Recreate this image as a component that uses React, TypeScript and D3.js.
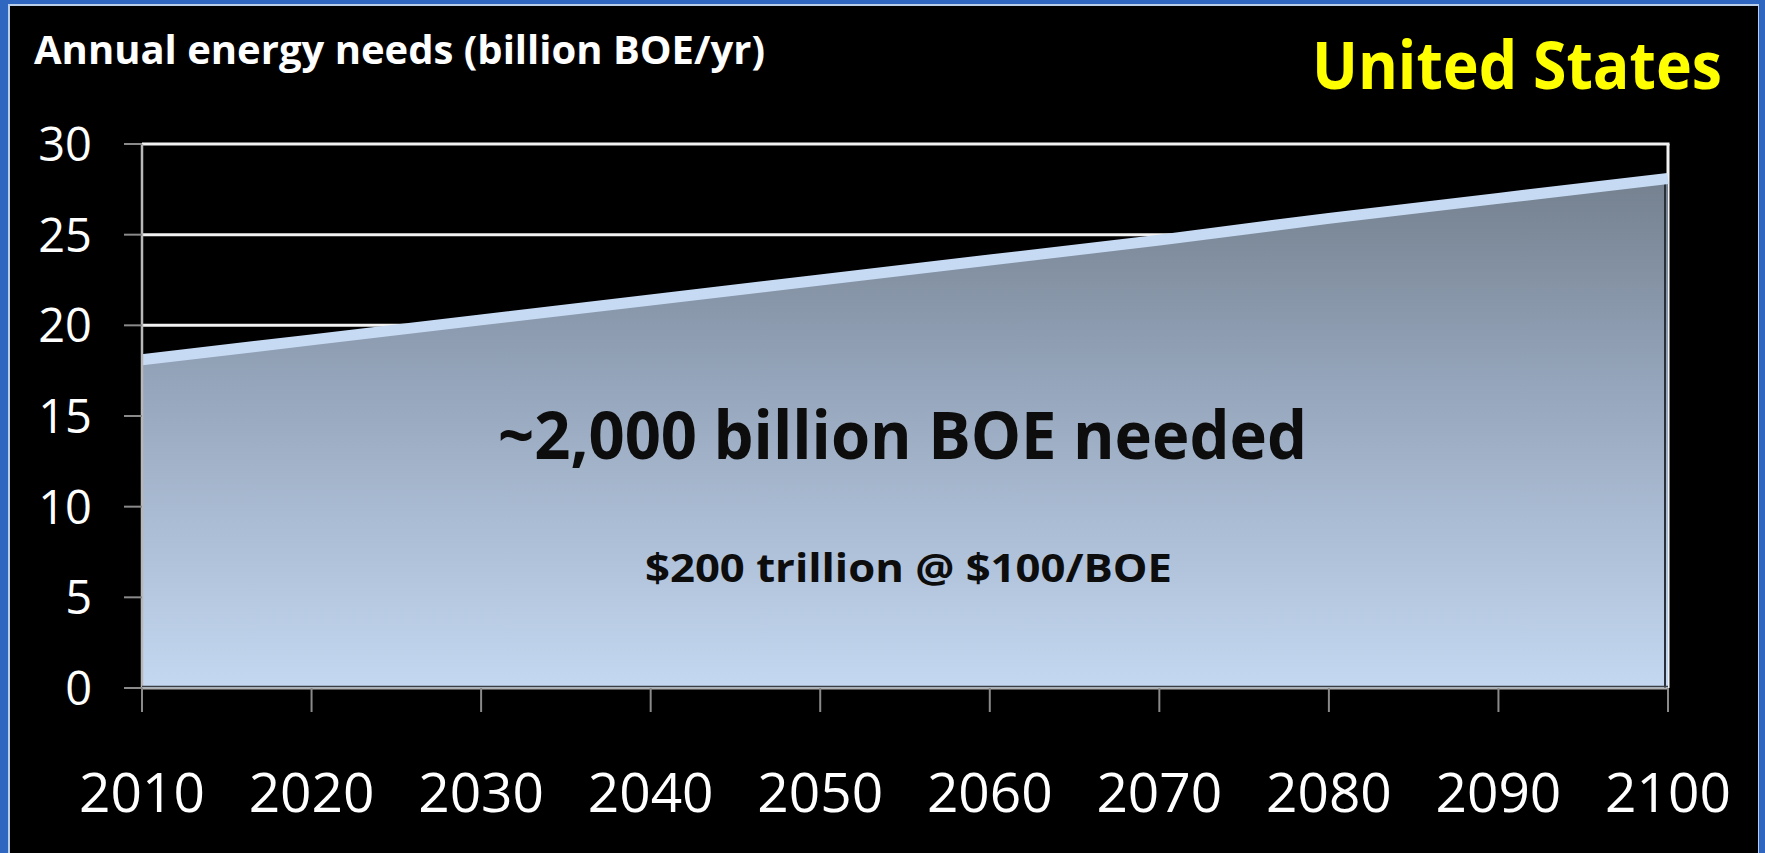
import React from "react";
import * as d3 from "d3";

const years = [2010, 2020, 2030, 2040, 2050, 2060, 2070, 2080, 2090, 2100];
const needs = [18.1, 19.2, 20.3, 21.4, 22.5, 23.6, 24.7, 25.9, 27.0, 28.1];
const yTicks = [0, 5, 10, 15, 20, 25, 30];
const gridValues = [20, 25];
const xTickLabels = years.map(String);
const yAxisTitle = "Annual energy needs (billion BOE/yr)";
const regionTitle = "United States";
const mainNote = "~2,000 billion BOE needed";
const subNote = "$200 trillion @ $100/BOE";

const W = 1765;
const H = 853;
const FONT = "'Open Sans', 'Noto Sans', sans-serif";

export default function App() {
  const x = d3.scaleLinear().domain([2010, 2100]).range([142, 1668]);
  const y = d3.scaleLinear().domain([0, 30]).range([688, 144]);
  const data = years.map((yr, i) => ({ yr, v: needs[i] }));

  const area = d3
    .area<{ yr: number; v: number }>()
    .x((d) => x(d.yr))
    .y0(y(0))
    .y1((d) => y(d.v));
  const line = d3
    .line<{ yr: number; v: number }>()
    .x((d) => x(d.yr))
    .y((d) => y(d.v));

  const x0 = x(2010);
  const x1 = x(2100);

  return (
    <svg
      width={W}
      height={H}
      style={{ position: "absolute", left: 0, top: 0, display: "block" }}
      xmlns="http://www.w3.org/2000/svg"
    >
      <defs>
        <linearGradient
          id="areaGrad"
          gradientUnits="userSpaceOnUse"
          x1="0"
          y1={y(28)}
          x2="0"
          y2={y(0)}
        >
          <stop offset="0" stopColor="#75818f" />
          <stop offset="0.4" stopColor="#95a5bb" />
          <stop offset="1" stopColor="#c4d8f1" />
        </linearGradient>
      </defs>
      {/* outer frame */}
      <rect x={0} y={0} width={W} height={H} fill="#2f66c0" />
      <rect x={8} y={4} width={1751} height={H} fill="#b9cfe9" />
      <rect x={10} y={6} width={1748} height={H} fill="#000" />

      {/* gridlines */}
      {gridValues.map((g) => (
        <line
          key={g}
          x1={x0}
          x2={x1}
          y1={y(g)}
          y2={y(g)}
          stroke="#f2f2f2"
          strokeWidth={3}
        />
      ))}
      {/* top & right frame */}
      <line x1={x0} x2={x1 + 1.5} y1={y(30)} y2={y(30)} stroke="#f2f2f2" strokeWidth={3} />
      <line x1={x1} x2={x1} y1={y(30)} y2={y(0)} stroke="#f2f2f2" strokeWidth={3} />

      {/* area */}
      <path d={area(data) || ""} fill="url(#areaGrad)" />
      <line x1={x1 - 3} x2={x1 - 3} y1={y(needs[needs.length - 1])} y2={y(0)} stroke="#2a3038" strokeWidth={2} />
      <path
        d={line(data) || ""}
        fill="none"
        stroke="#c6daf3"
        strokeWidth={11}
      />

      {/* axes */}
      <line x1={x0} x2={x0} y1={y(30)} y2={y(0)} stroke="#b8b8b8" strokeWidth={2.5} />
      <line x1={x0} x2={x1} y1={y(0) - 1.5} y2={y(0) - 1.5} stroke="#3a3f46" strokeWidth={1.5} />
      <line x1={x0} x2={x1} y1={y(0) + 0.5} y2={y(0) + 0.5} stroke="#b0b0b0" strokeWidth={2} />
      {yTicks.map((t) => (
        <g key={t}>
          <line x1={124} x2={x0} y1={y(t)} y2={y(t)} stroke="#8a8a8a" strokeWidth={2} />
          <text
            x={92}
            y={y(t) + 17}
            textAnchor="end"
            fill="#ffffff"
            fontFamily={FONT}
            fontSize={47}
          >
            {t}
          </text>
        </g>
      ))}
      {years.map((yr, i) => (
        <g key={yr}>
          <line x1={x(yr)} x2={x(yr)} y1={y(0)} y2={y(0) + 24} stroke="#8a8a8a" strokeWidth={2} />
          <text
            x={x(yr)}
            y={812}
            textAnchor="middle"
            fill="#ffffff"
            fontFamily={FONT}
            fontSize={55}
          >
            {xTickLabels[i]}
          </text>
        </g>
      ))}

      {/* titles */}
      <text
        x={34}
        y={64}
        fill="#ffffff"
        fontFamily={FONT}
        fontWeight="bold"
        fontSize={39}
        textLength={731}
        lengthAdjust="spacingAndGlyphs"
      >
        {yAxisTitle}
      </text>
      <text
        x={1312}
        y={89}
        fill="#ffff00"
        fontFamily={FONT}
        fontWeight="bold"
        fontSize={67}
        textLength={410}
        lengthAdjust="spacingAndGlyphs"
      >
        {regionTitle}
      </text>

      {/* annotations */}
      <text
        x={498}
        y={459}
        fill="#0d0d0d"
        fontFamily={FONT}
        fontWeight="bold"
        fontSize={67}
        textLength={809}
        lengthAdjust="spacingAndGlyphs"
      >
        {mainNote}
      </text>
      <text
        x={645}
        y={582}
        fill="#0d0d0d"
        fontFamily={FONT}
        fontWeight="bold"
        fontSize={39}
        textLength={527}
        lengthAdjust="spacingAndGlyphs"
      >
        {subNote}
      </text>
    </svg>
  );
}
